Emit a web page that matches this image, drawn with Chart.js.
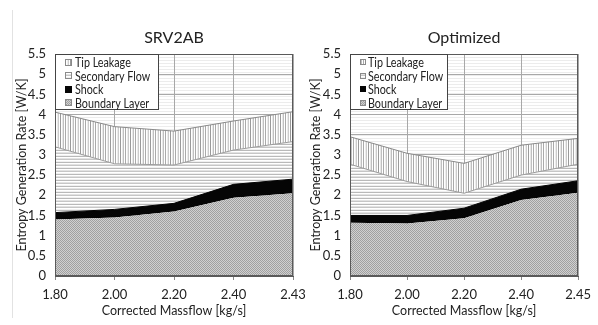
<!DOCTYPE html>
<html>
<head>
<meta charset="utf-8">
<script src="https://cdn.jsdelivr.net/npm/chart.js@4/dist/chart.umd.min.js"></script>
<style>
  html, body { margin: 0; padding: 0; background: #fff; width: 598px; height: 325px; overflow: hidden; }
  #wrap { position: relative; width: 598px; height: 325px; }
  canvas { position: absolute; top: 0; }
  #c1 { left: 0; }
  #c2 { left: 298px; }
  #frame { position: absolute; left: 12px; top: 10px; height: 308px; border-left: 1px solid #e2e2e2; }
</style>
</head>
<body>
<div id="wrap">
  <div id="frame"></div>
  <canvas id="c2" width="300" height="325" style="width:300px;height:325px"></canvas>
  <canvas id="c1" width="320" height="325" style="width:320px;height:325px"></canvas>
</div>
<script>
// Corrected mass flow operating points [kg/s]
const massflowSRV = ['1.80', '2.00', '2.20', '2.40', '2.43'];
const massflowOpt = ['1.80', '2.00', '2.20', '2.40', '2.45'];

// Entropy generation contributions [W/K], stacked bottom to top
const boundarySRV  = [1.40, 1.45, 1.60, 1.94, 2.05];
const shockSRV     = [0.17, 0.20, 0.20, 0.33, 0.35];
const secondarySRV = [1.63, 1.13, 0.95, 0.85, 0.93];
const tipSRV       = [0.86, 0.92, 0.84, 0.72, 0.74];

const boundaryOpt  = [1.32, 1.30, 1.43, 1.88, 2.06];
const shockOpt     = [0.18, 0.20, 0.25, 0.27, 0.30];
const secondaryOpt = [1.27, 0.84, 0.37, 0.35, 0.41];
const tipOpt       = [0.68, 0.70, 0.74, 0.74, 0.64];

const yMin = 0, yMax = 5.5, yStep = 0.5;

const FONT = 'Lato, "Open Sans", sans-serif';
const TEXT = '#222222';

// ---- fill patterns ----
function makePattern(w, h, paint) {
  const c = document.createElement('canvas');
  c.width = w; c.height = h;
  const g = c.getContext('2d');
  g.fillStyle = '#fff'; g.fillRect(0, 0, w, h);
  paint(g);
  return g.createPattern(c, 'repeat');
}
const pat = {
  back: makePattern(1, 3, g => { g.fillStyle = '#ececec'; g.fillRect(0, 0, 1, 1); }),
  boundary: makePattern(2, 2, g => {
    g.fillStyle = '#d0d0d0'; g.fillRect(0, 0, 2, 2);
    g.fillStyle = '#a0a0a0'; g.fillRect(0, 0, 1, 1); g.fillRect(1, 1, 1, 1);
  }),
  shock: '#050505',
  secondary: makePattern(1, 6, g => {
    const rows = ['#b9b9b9', '#ffffff', '#e2e2e2', '#c6c6c6', '#ffffff', '#f0f0f0'];
    rows.forEach((col, i) => { g.fillStyle = col; g.fillRect(0, i, 1, 1); });
  }),
  tip: makePattern(10, 1, g => {
    const cols = ['#9a9a9a', '#ffffff', '#e8e8e8', '#c0c0c0', '#ffffff', '#aaaaaa', '#ffffff', '#ececec', '#cccccc', '#ffffff'];
    cols.forEach((col, i) => { g.fillStyle = col; g.fillRect(i, 0, 1, 1); });
  })
};

const legendItems = [
  { text: 'Tip Leakage', fill: pat.tip },
  { text: 'Secondary Flow', fill: pat.secondary },
  { text: 'Shock', fill: pat.shock },
  { text: 'Boundary Layer', fill: pat.boundary }
];

// Plot background, frame, panel title and in-plot legend
const panelDecor = {
  id: 'panelDecor',
  beforeDraw(chart) {
    const { ctx, chartArea: a } = chart;
    ctx.save();
    ctx.fillStyle = pat.back;
    ctx.fillRect(a.left, a.top, a.right - a.left, a.bottom - a.top);
    ctx.restore();
  },
  afterDraw(chart, args, opts) {
    const { ctx, chartArea: a } = chart;
    ctx.save();
    // plot frame
    ctx.strokeStyle = '#5a5a5a';
    ctx.lineWidth = 1;
    ctx.strokeRect(Math.round(a.left) + 0.5, Math.round(a.top) + 0.5,
                   Math.round(a.right - a.left) - 1, Math.round(a.bottom - a.top) - 1);
    // panel title
    ctx.fillStyle = TEXT;
    ctx.font = '16px ' + FONT;
    ctx.textAlign = 'center';
    ctx.textBaseline = 'middle';
    ctx.fillText(opts.title, (a.left + a.right) / 2, 38);
    // legend box
    const lx = Math.round(a.left) + 0.5, ly = Math.round(a.top) + 0.5;
    ctx.fillStyle = '#fff';
    ctx.fillRect(lx, ly, opts.legendWidth, 55);
    ctx.strokeStyle = '#444';
    ctx.strokeRect(lx, ly, opts.legendWidth, 55);
    ctx.font = '12.5px ' + FONT;
    ctx.textAlign = 'left';
    const rows = [8, 21.5, 35, 48.5];
    const sw = opts.swatch;
    legendItems.forEach((it, i) => {
      const cy = a.top + rows[i];
      const sy = Math.round(cy - sw / 2);
      ctx.fillStyle = it.fill;
      ctx.fillRect(a.left + 10, sy, sw, sw);
      if (it.fill !== pat.shock) {
        ctx.strokeStyle = '#8a8a8a';
        ctx.strokeRect(a.left + 10.5, sy + 0.5, sw - 1, sw - 1);
      }
      // narrow text run to fit the compact legend box
      ctx.save();
      ctx.translate(a.left + opts.textOffset, cy + 1);
      ctx.scale(0.86, 1);
      ctx.fillStyle = TEXT;
      ctx.fillText(it.text, 0, 0);
      ctx.restore();
    });
    ctx.restore();
  }
};

function tickText(v) { return String(Number(v.toFixed(2))); }

function buildChart(canvasId, labels, bl, sh, sec, tip, cfg) {
  return new Chart(document.getElementById(canvasId), {
    type: 'line',
    data: {
      labels: labels,
      datasets: [
        { label: 'Boundary Layer', data: bl, backgroundColor: pat.boundary, borderColor: 'rgba(0,0,0,0)', borderWidth: 1, fill: 'origin' },
        { label: 'Shock', data: sh, backgroundColor: pat.shock, borderColor: '#050505', borderWidth: 1, fill: '-1' },
        { label: 'Secondary Flow', data: sec, backgroundColor: pat.secondary, borderColor: '#9c9c9c', borderWidth: 1, fill: '-1' },
        { label: 'Tip Leakage', data: tip, backgroundColor: pat.tip, borderColor: '#8a8a8a', borderWidth: 1, fill: '-1' }
      ]
    },
    options: {
      responsive: false,
      animation: false,
      devicePixelRatio: 1,
      layout: { padding: { left: 0, top: 54, right: cfg.padRight, bottom: 0 } },
      elements: { point: { radius: 0, hoverRadius: 0 }, line: { tension: 0 } },
      plugins: {
        legend: { display: false },
        tooltip: { enabled: false },
        panelDecor: { title: cfg.title, legendWidth: cfg.legendWidth, textOffset: cfg.textOffset, swatch: cfg.swatch }
      },
      scales: {
        x: {
          type: 'category',
          offset: false,
          grid: { color: '#a8a8a8', tickLength: 4, tickColor: '#888' },
          border: { color: '#5a5a5a' },
          ticks: { font: { family: FONT, size: 13 }, color: TEXT, padding: 7, maxRotation: 0, autoSkip: false },
          title: { display: true, text: 'Corrected Massflow [kg/s]', font: { family: FONT, size: 12.5 }, color: TEXT, padding: { top: 0, bottom: 7 } },
          afterFit(s) { s.height = 49; }
        },
        y: {
          stacked: true,
          min: yMin, max: yMax,
          grid: { color: '#a8a8a8', drawTicks: false },
          border: { color: '#5a5a5a' },
          ticks: { stepSize: yStep, font: { family: FONT, size: 13 }, color: TEXT, padding: 9, callback: tickText },
          title: { display: true, text: 'Entropy Generation Rate [W/K]', font: { family: FONT, size: 12.5 }, color: TEXT, padding: { top: cfg.yTitlePad, bottom: 0 } },
          afterFit(s) { s.width = cfg.yWidth; }
        }
      }
    },
    plugins: [panelDecor]
  });
}

buildChart('c1', massflowSRV, boundarySRV, shockSRV, secondarySRV, tipSRV,
  { title: 'SRV2AB', padRight: 27, yWidth: 55, yTitlePad: 14, legendWidth: 103, textOffset: 20, swatch: 7 });
buildChart('c2', massflowOpt, boundaryOpt, shockOpt, secondaryOpt, tipOpt,
  { title: 'Optimized', padRight: 12, yWidth: 52, yTitlePad: 10, legendWidth: 97, textOffset: 18, swatch: 6 });
</script>
</body>
</html>
